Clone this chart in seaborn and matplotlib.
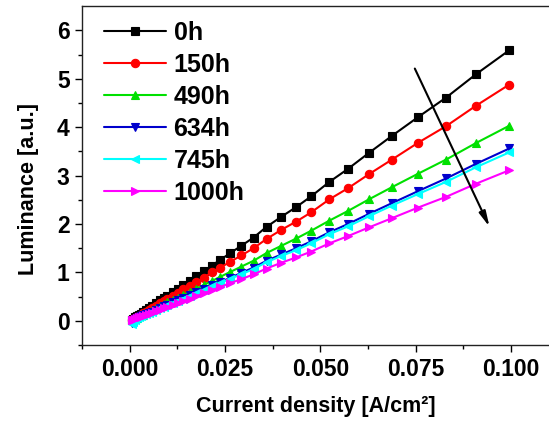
import matplotlib
matplotlib.use("Agg")
import matplotlib.pyplot as plt
import seaborn as sns
import pandas as pd

# ---- data ----
current_density = [0.0996, 0.0908, 0.0830, 0.0757, 0.0688, 0.0628, 0.0573, 0.0524,
                   0.0476, 0.0437, 0.0398, 0.0359, 0.0325, 0.0293, 0.0264, 0.0238,
                   0.0215, 0.0194, 0.0175, 0.0157, 0.0141, 0.0126, 0.0113, 0.0099,
                   0.0089, 0.0079, 0.0068, 0.0058, 0.0050, 0.0042, 0.0034, 0.0029,
                   0.0024, 0.0018, 0.0013, 0.0008, 0.0005]

lum_0h = [5.59, 5.09, 4.61, 4.21, 3.82, 3.47, 3.14, 2.87, 2.57, 2.35, 2.15, 1.94,
          1.72, 1.55, 1.40, 1.26, 1.14, 1.02, 0.92, 0.83, 0.74, 0.66, 0.59, 0.52,
          0.47, 0.42, 0.36, 0.30, 0.26, 0.22, 0.18, 0.15, 0.12, 0.09, 0.07, 0.04, 0.02]
lum_150h = [4.88, 4.44, 4.02, 3.68, 3.33, 3.03, 2.74, 2.51, 2.24, 2.05, 1.88, 1.69,
            1.50, 1.35, 1.22, 1.10, 1.00, 0.89, 0.80, 0.72, 0.65, 0.58, 0.52, 0.45,
            0.41, 0.37, 0.31, 0.26, 0.23, 0.19, 0.16, 0.13, 0.10, 0.08, 0.06, 0.03, 0.02]
lum_490h = [4.03, 3.67, 3.33, 3.04, 2.76, 2.51, 2.27, 2.07, 1.86, 1.70, 1.55, 1.40,
            1.24, 1.12, 1.01, 0.91, 0.82, 0.74, 0.66, 0.60, 0.53, 0.48, 0.43, 0.38,
            0.34, 0.30, 0.26, 0.22, 0.19, 0.16, 0.13, 0.11, 0.09, 0.06, 0.05, 0.03, 0.01]
lum_634h = [3.56, 3.24, 2.94, 2.68, 2.43, 2.21, 2.00, 1.83, 1.64, 1.50, 1.37, 1.24,
            1.10, 0.99, 0.89, 0.80, 0.73, 0.65, 0.59, 0.53, 0.47, 0.42, 0.38, 0.33,
            0.30, 0.27, 0.23, 0.19, 0.17, 0.14, 0.11, 0.10, 0.08, 0.06, 0.04, 0.00, -0.05]
lum_745h = [3.48, 3.17, 2.87, 2.62, 2.38, 2.16, 1.95, 1.79, 1.60, 1.46, 1.34, 1.21,
            1.07, 0.96, 0.87, 0.78, 0.71, 0.63, 0.57, 0.52, 0.46, 0.41, 0.37, 0.32,
            0.29, 0.26, 0.22, 0.19, 0.16, 0.14, 0.11, 0.09, 0.07, 0.05, 0.02, -0.02, -0.06]
lum_1000h = [3.11, 2.83, 2.56, 2.34, 2.12, 1.93, 1.75, 1.60, 1.43, 1.31, 1.20, 1.08,
             0.96, 0.86, 0.78, 0.70, 0.63, 0.57, 0.51, 0.46, 0.41, 0.37, 0.33, 0.29,
             0.26, 0.23, 0.20, 0.17, 0.14, 0.12, 0.10, 0.08, 0.07, 0.05, 0.04, 0.02, 0.01]

series_labels = ["0h", "150h", "490h", "634h", "745h", "1000h"]
series_values = [lum_0h, lum_150h, lum_490h, lum_634h, lum_745h, lum_1000h]
series_colors = ["#000000", "#FF0000", "#00E000", "#0000CC", "#00FFFF", "#FF00FF"]
series_markers = ["s", "o", "^", "v", "<", ">"]

x_ticks = [0.000, 0.025, 0.050, 0.075, 0.100]
y_ticks = [0, 1, 2, 3, 4, 5, 6]

# ---- style ----
sns.set_style("ticks")
plt.rcParams["font.family"] = ["Liberation Sans", "DejaVu Sans"]
plt.rcParams["font.weight"] = "bold"
plt.rcParams["axes.labelweight"] = "bold"
plt.rcParams["text.color"] = "black"
plt.rcParams["axes.labelcolor"] = "black"
plt.rcParams["xtick.color"] = "black"
plt.rcParams["ytick.color"] = "black"

fig = plt.figure(figsize=(5.49, 4.21), dpi=100)
ax = fig.add_axes([0.1494, 0.1805, 0.8506, 0.805])

for lab, vals, col, mk in zip(series_labels, series_values, series_colors, series_markers):
    df = pd.DataFrame({"x": current_density, "y": vals})
    sns.lineplot(data=df, x="x", y="y", ax=ax, color=col, marker=mk,
                 markersize=6, markeredgecolor=col, markeredgewidth=0.8,
                 linewidth=1.5, label=lab, sort=True, estimator=None)

ax.set_xlim(-0.0125, 0.11)
ax.set_ylim(-0.5, 6.5)
ax.set_xticks(x_ticks)
ax.set_xticklabels([f"{v:.3f}" for v in x_ticks])
ax.set_yticks(y_ticks)
ax.set_xticks([-0.0125, 0.0125, 0.0375, 0.0625, 0.0875], minor=True)
ax.set_yticks([-0.5, 0.5, 1.5, 2.5, 3.5, 4.5, 5.5], minor=True)
ax.tick_params(which="major", direction="out", length=5, width=1, labelsize=16.5, pad=4,
               colors="black")
ax.tick_params(which="minor", direction="out", length=3, width=1, colors="black")
for t in ax.get_xticklabels() + ax.get_yticklabels():
    t.set_fontweight("bold")

ax.set_xlabel("Current density [A/cm²]", fontsize=15.5, fontweight="bold", labelpad=11,
              color="black")
ax.set_ylabel("Luminance [a.u.]", fontsize=15.5, fontweight="bold", color="black")
ax.yaxis.set_label_coords(-0.092, 0.46)

for s in ["left", "bottom", "top"]:
    ax.spines[s].set_linewidth(1.0)
    ax.spines[s].set_color("#222222")
ax.spines["right"].set_visible(False)

ax.annotate("", xy=(0.0944, 1.94), xytext=(0.0748, 5.21),
            arrowprops=dict(arrowstyle="-|>,head_length=0.9,head_width=0.2",
                            color="black", lw=1.5, shrinkA=0, shrinkB=0))

leg = ax.legend(loc="upper left", bbox_to_anchor=(0.014, 1.0), frameon=False,
                handlelength=2.5, handletextpad=0.3, labelspacing=0.32,
                borderaxespad=0.2, numpoints=1, prop={"weight": "bold", "size": 18})
for t in leg.get_texts():
    t.set_color("black")

fig.savefig("out.png", dpi=100)
